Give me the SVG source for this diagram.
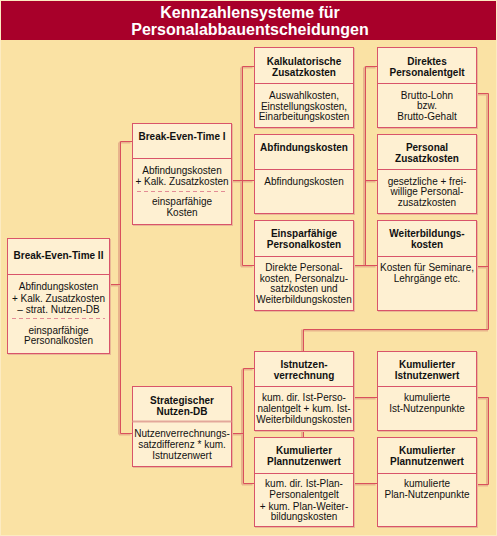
<svg xmlns="http://www.w3.org/2000/svg" width="497" height="536" viewBox="0 0 497 536">
<style>
text{font-family:"Liberation Sans",Arial,sans-serif;fill:#111;text-anchor:middle}
.t{font-size:16px;font-weight:bold;fill:#fff}
.h{font-size:10px;font-weight:bold}
.b{font-size:10px}
.box{fill:#FEF0D2;stroke:#D9546A;stroke-width:1}
.sh{fill:none;stroke:#E9B896;stroke-width:1}
.div{stroke:#D9546A;stroke-width:1}
.dash{stroke:#E38C95;stroke-width:1;stroke-dasharray:4 3}
.c{fill:none;stroke:#D9505C;stroke-width:1}
.cs{fill:none;stroke:#E8B48C;stroke-width:2}
</style>
<rect x="0" y="0" width="497" height="536" fill="#FAE2A4"/>
<rect x="0" y="0" width="497" height="40" fill="#A8002A"/>
<rect x="0.5" y="0.5" width="496" height="535" fill="none" stroke="#FCEBC2" stroke-width="1"/>
<g id="title">
<text class="t" x="250" y="17.5">Kennzahlensysteme für</text>
<text class="t" x="250" y="34.5">Personalabbauentscheidungen</text>
</g>
<g id="connectors">
<g transform="translate(-1.5,1)">
<path class="cs" d="M109,284.5H120.5M120.5,141.5V433.5M120.5,141.5H132M120.5,433.5H132M231,180.5H242.5M242.5,66.5V265.5M242.5,66.5H254M242.5,180.5H254M242.5,265.5H254M365.5,66.5V265.5M365.5,66.5H377M365.5,180.5H377M353,265.5H377M476,93.5H488.5V329.5H303.5V351M476,266.5H488.5M303.5,430V437M231,433.5H243.5M243.5,368.5V483.5M243.5,368.5H254M243.5,483.5H254M353,397.5H377M353,483.5H377M476,397.5H488.5V484.5H476"/>
</g>
<path class="c" d="M109,284.5H120.5M120.5,141.5V433.5M120.5,141.5H132M120.5,433.5H132M231,180.5H242.5M242.5,66.5V265.5M242.5,66.5H254M242.5,180.5H254M242.5,265.5H254M365.5,66.5V265.5M365.5,66.5H377M365.5,180.5H377M353,265.5H377M476,93.5H488.5V329.5H303.5V351M476,266.5H488.5M303.5,430V437M231,433.5H243.5M243.5,368.5V483.5M243.5,368.5H254M243.5,483.5H254M353,397.5H377M353,483.5H377M476,397.5H488.5V484.5H476"/>
</g>
<g id="bet2">
<rect class="sh" x="8.5" y="239.5" width="102" height="115"/>
<rect class="box" x="7.5" y="238.5" width="102" height="115"/>
<line class="div" x1="7.5" y1="274.5" x2="109.5" y2="274.5"/>
<line class="dash" x1="12" y1="318.5" x2="105" y2="318.5"/>
<text class="h" x="58.5" y="258.5">Break-Even-Time II</text>
<text class="b" x="58.5" y="290">Abfindungskosten</text>
<text class="b" x="58.5" y="301.5">+ Kalk. Zusatzkosten</text>
<text class="b" x="58.5" y="313">– strat. Nutzen-DB</text>
<text class="b" x="58.5" y="333.5">einsparfähige</text>
<text class="b" x="58.5" y="344">Personalkosten</text>
</g>
<g id="bet1">
<rect class="sh" x="133.5" y="124.5" width="99" height="101"/>
<rect class="box" x="132.5" y="123.5" width="99" height="101"/>
<line class="div" x1="132.5" y1="158.5" x2="231.5" y2="158.5"/>
<line class="dash" x1="137" y1="191.5" x2="227" y2="191.5"/>
<text class="h" x="182" y="139.5">Break-Even-Time I</text>
<text class="b" x="182" y="173.5">Abfindungskosten</text>
<text class="b" x="182" y="184.5">+ Kalk. Zusatzkosten</text>
<text class="b" x="182" y="205">einsparfähige</text>
<text class="b" x="182" y="215.5">Kosten</text>
</g>
<g id="strat">
<rect class="sh" x="133.5" y="387.5" width="99" height="80"/>
<rect class="box" x="132.5" y="386.5" width="99" height="80"/>
<line x1="132.5" y1="421.5" x2="231.5" y2="421.5" stroke="#E3A79A" stroke-width="2"/>
<text class="h" x="182" y="403.5">Strategischer</text>
<text class="h" x="182" y="414.5">Nutzen-DB</text>
<text class="b" x="182" y="437">Nutzenverrechnungs-</text>
<text class="b" x="182" y="448">satzdifferenz * kum.</text>
<text class="b" x="182" y="458.5">Istnutzenwert</text>
</g>
<g id="kalk">
<rect class="sh" x="255.5" y="48.5" width="99" height="80"/>
<rect class="box" x="254.5" y="47.5" width="99" height="80"/>
<line class="div" x1="254.5" y1="83.5" x2="353.5" y2="83.5"/>
<text class="h" x="304" y="64.5">Kalkulatorische</text>
<text class="h" x="304" y="75.5">Zusatzkosten</text>
<text class="b" x="304" y="98.5">Auswahlkosten,</text>
<text class="b" x="304" y="109.5">Einstellungskosten,</text>
<text class="b" x="304" y="120">Einarbeitungskosten</text>
</g>
<g id="abf">
<rect class="sh" x="255.5" y="135.5" width="99" height="79"/>
<rect class="box" x="254.5" y="134.5" width="99" height="79"/>
<line class="div" x1="254.5" y1="169.5" x2="353.5" y2="169.5"/>
<text class="h" x="304" y="151">Abfindungskosten</text>
<text class="b" x="304" y="184.5">Abfindungskosten</text>
</g>
<g id="einspar">
<rect class="sh" x="255.5" y="221.5" width="99" height="90"/>
<rect class="box" x="254.5" y="220.5" width="99" height="90"/>
<line class="div" x1="254.5" y1="256.5" x2="353.5" y2="256.5"/>
<text class="h" x="304" y="237">Einsparfähige</text>
<text class="h" x="304" y="248">Personalkosten</text>
<text class="b" x="304" y="270.5">Direkte Personal-</text>
<text class="b" x="304" y="281.5">kosten, Personalzu-</text>
<text class="b" x="304" y="292">satzkosten und</text>
<text class="b" x="304" y="303">Weiterbildungskosten</text>
</g>
<g id="ist">
<rect class="sh" x="255.5" y="352.5" width="99" height="79"/>
<rect class="box" x="254.5" y="351.5" width="99" height="79"/>
<line class="div" x1="254.5" y1="386.5" x2="353.5" y2="386.5"/>
<text class="h" x="304" y="367.5">Istnutzen-</text>
<text class="h" x="304" y="378.5">verrechnung</text>
<text class="b" x="304" y="400.5">kum. dir. Ist-Perso-</text>
<text class="b" x="304" y="412">nalentgelt + kum. Ist-</text>
<text class="b" x="304" y="423">Weiterbildungskosten</text>
</g>
<g id="plan1">
<rect class="sh" x="255.5" y="438.5" width="99" height="89"/>
<rect class="box" x="254.5" y="437.5" width="99" height="89"/>
<line class="div" x1="254.5" y1="473.5" x2="353.5" y2="473.5"/>
<text class="h" x="304" y="453.5">Kumulierter</text>
<text class="h" x="304" y="464.5">Plannutzenwert</text>
<text class="b" x="304" y="487">kum. dir. Ist-Plan-</text>
<text class="b" x="304" y="498">Personalentgelt</text>
<text class="b" x="304" y="509.5">+ kum. Plan-Weiter-</text>
<text class="b" x="304" y="520">bildungskosten</text>
</g>
<g id="direkt">
<rect class="sh" x="378.5" y="48.5" width="99" height="80"/>
<rect class="box" x="377.5" y="47.5" width="99" height="80"/>
<line class="div" x1="377.5" y1="83.5" x2="476.5" y2="83.5"/>
<text class="h" x="427" y="64.5">Direktes</text>
<text class="h" x="427" y="75.5">Personalentgelt</text>
<text class="b" x="427" y="98.5">Brutto-Lohn</text>
<text class="b" x="427" y="109">bzw.</text>
<text class="b" x="427" y="120">Brutto-Gehalt</text>
</g>
<g id="pzusatz">
<rect class="sh" x="378.5" y="135.5" width="99" height="79"/>
<rect class="box" x="377.5" y="134.5" width="99" height="79"/>
<line class="div" x1="377.5" y1="169.5" x2="476.5" y2="169.5"/>
<text class="h" x="427" y="151">Personal</text>
<text class="h" x="427" y="162">Zusatzkosten</text>
<text class="b" x="427" y="184.5">gesetzliche + frei-</text>
<text class="b" x="427" y="195">willige Personal-</text>
<text class="b" x="427" y="205.5">zusatzkosten</text>
</g>
<g id="weiter">
<rect class="sh" x="378.5" y="221.5" width="99" height="90"/>
<rect class="box" x="377.5" y="220.5" width="99" height="90"/>
<line class="div" x1="377.5" y1="256.5" x2="476.5" y2="256.5"/>
<text class="h" x="427" y="237">Weiterbildungs-</text>
<text class="h" x="427" y="248">kosten</text>
<text class="b" x="427" y="270.5">Kosten für Seminare,</text>
<text class="b" x="427" y="281.5">Lehrgänge etc.</text>
</g>
<g id="kumist">
<rect class="sh" x="378.5" y="352.5" width="99" height="79"/>
<rect class="box" x="377.5" y="351.5" width="99" height="79"/>
<line class="div" x1="377.5" y1="386.5" x2="476.5" y2="386.5"/>
<text class="h" x="427" y="367.5">Kumulierter</text>
<text class="h" x="427" y="378.5">Istnutzenwert</text>
<text class="b" x="427" y="400.5">kumulierte</text>
<text class="b" x="427" y="412">Ist-Nutzenpunkte</text>
</g>
<g id="plan2">
<rect class="sh" x="378.5" y="438.5" width="99" height="89"/>
<rect class="box" x="377.5" y="437.5" width="99" height="89"/>
<line class="div" x1="377.5" y1="473.5" x2="476.5" y2="473.5"/>
<text class="h" x="427" y="453.5">Kumulierter</text>
<text class="h" x="427" y="464.5">Plannutzenwert</text>
<text class="b" x="427" y="487">kumulierte</text>
<text class="b" x="427" y="498">Plan-Nutzenpunkte</text>
</g>
</svg>
